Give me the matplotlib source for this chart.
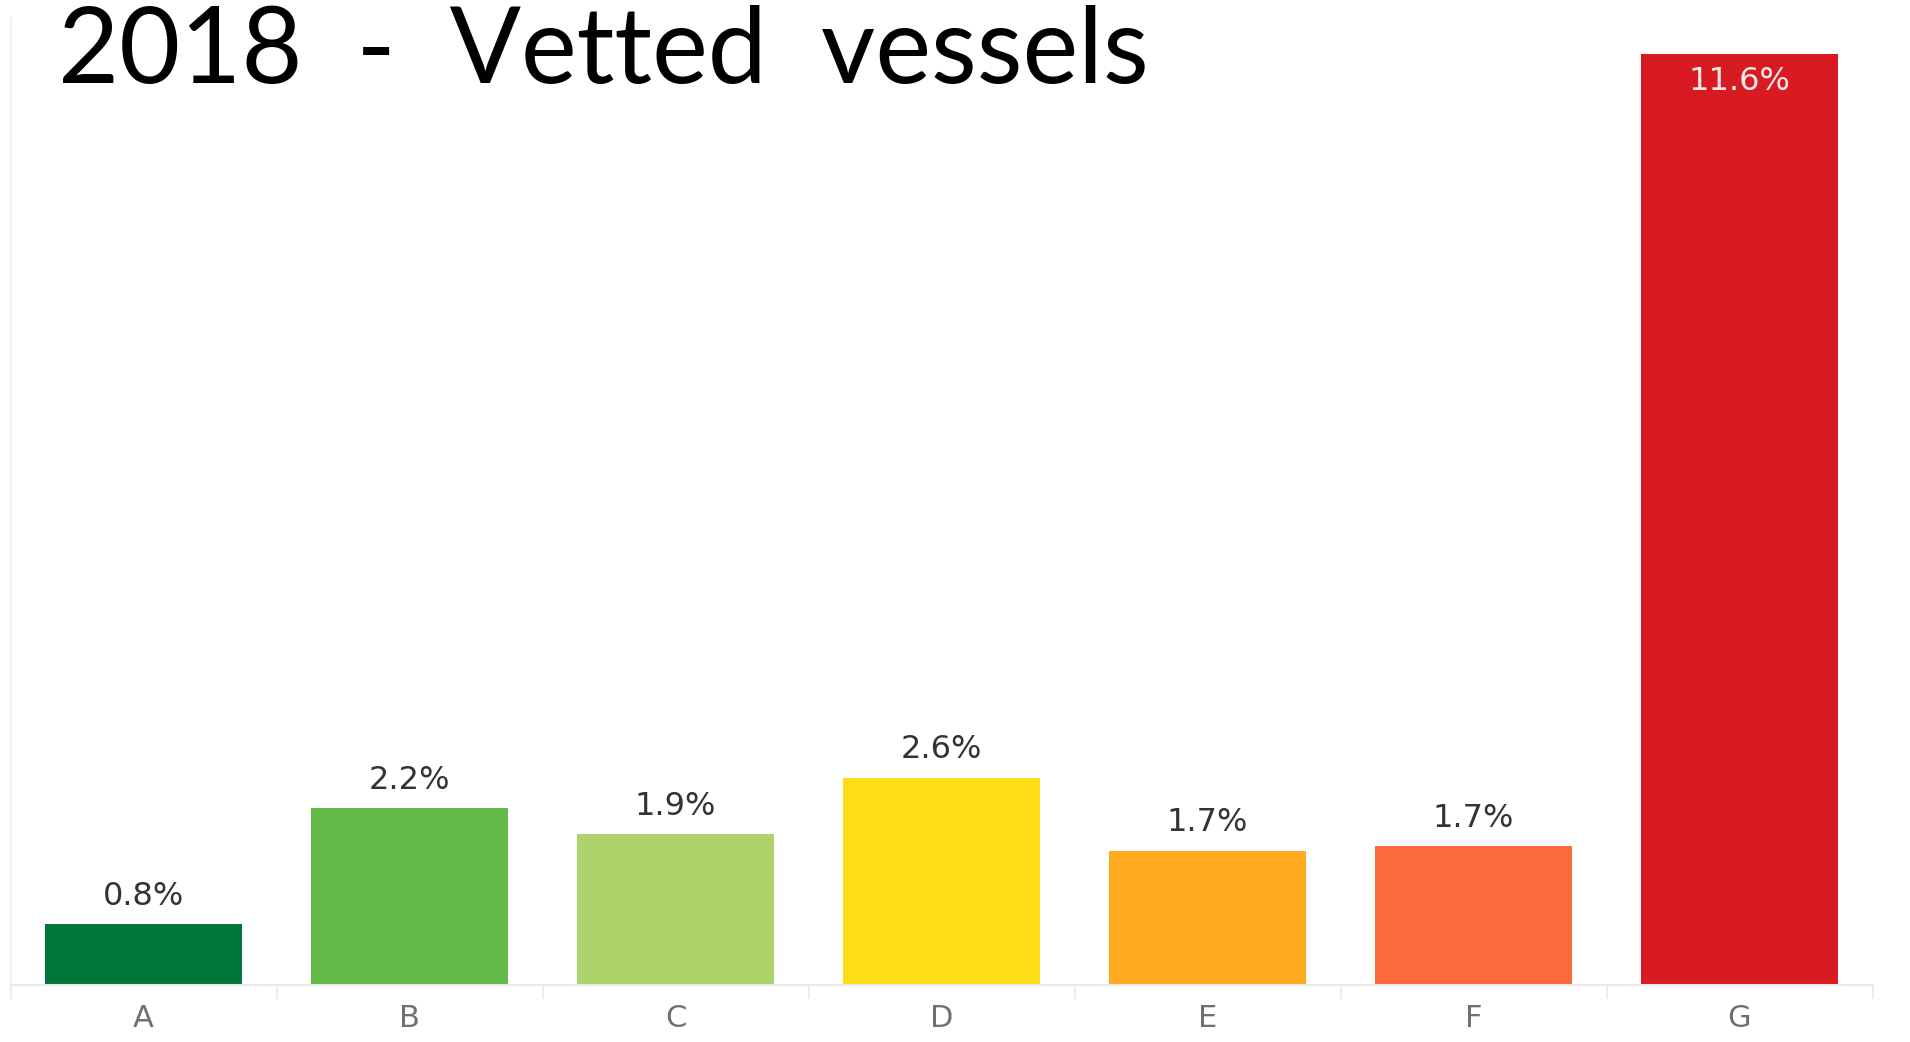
import matplotlib
matplotlib.use("Agg")
import matplotlib.pyplot as plt
from matplotlib.ticker import FixedLocator

categories = ["A", "B", "C", "D", "E", "F", "G"]
values = [0.76, 2.2, 1.88, 2.58, 1.67, 1.73, 11.6]
labels = ["0.8%", "2.2%", "1.9%", "2.6%", "1.7%", "1.7%", "11.6%"]
colors = ["#00773a", "#62b946", "#afd36b", "#fedc17", "#ffa91f", "#fd6a3b", "#d81b22"]
title = "2018  -  Vetted  vessels"

W, H = 1910, 1042
fig = plt.figure(figsize=(W / 100, H / 100), dpi=100)
fig.patch.set_facecolor("white")

left_px, right_px = 10.5, 1872.5
bottom_px, top_px = 985, 18
ax = fig.add_axes([left_px / W, (H - bottom_px) / H,
                   (right_px - left_px) / W, (bottom_px - top_px) / H])

x = list(range(len(categories)))
ax.bar(x, values, width=0.74, color=colors, zorder=2)
ax.set_xlim(-0.5, len(categories) - 0.5)
ax.set_ylim(0, 11.6 * (bottom_px - top_px) / 931)

for xi, v, lab in zip(x, values, labels):
    if v > 10:
        ax.annotate(lab, (xi, v), xytext=(0, -9), textcoords="offset points",
                    ha="center", va="top", fontsize=23, color="#f6e8e8",
                    family="DejaVu Sans", zorder=3)
    else:
        ax.annotate(lab, (xi, v), xytext=(0, 9), textcoords="offset points",
                    ha="center", va="bottom", fontsize=23, color="#333333",
                    family="DejaVu Sans", zorder=3)

ax.set_xticks(x)
ax.set_xticklabels(categories, fontsize=22, color="#707070", family="DejaVu Sans")
ax.xaxis.set_minor_locator(FixedLocator([i - 0.5 for i in range(len(categories) + 1)]))
ax.tick_params(axis="x", which="major", length=0, pad=14)
ax.tick_params(axis="x", which="minor", length=10, width=1.5, color="#ececec", direction="out")
ax.set_yticks([])

for s in ["top", "right"]:
    ax.spines[s].set_visible(False)
ax.spines["left"].set_color("#eeeeee")
ax.spines["bottom"].set_color("#e8e8e8")
ax.spines["left"].set_linewidth(1.2)
ax.spines["bottom"].set_linewidth(1.5)

fig.text(58 / W, 1 - 83 / H, title, fontsize=76, family="Lato",
         color="black", ha="left", va="baseline")

fig.savefig("out.png", dpi=100, facecolor="white")
